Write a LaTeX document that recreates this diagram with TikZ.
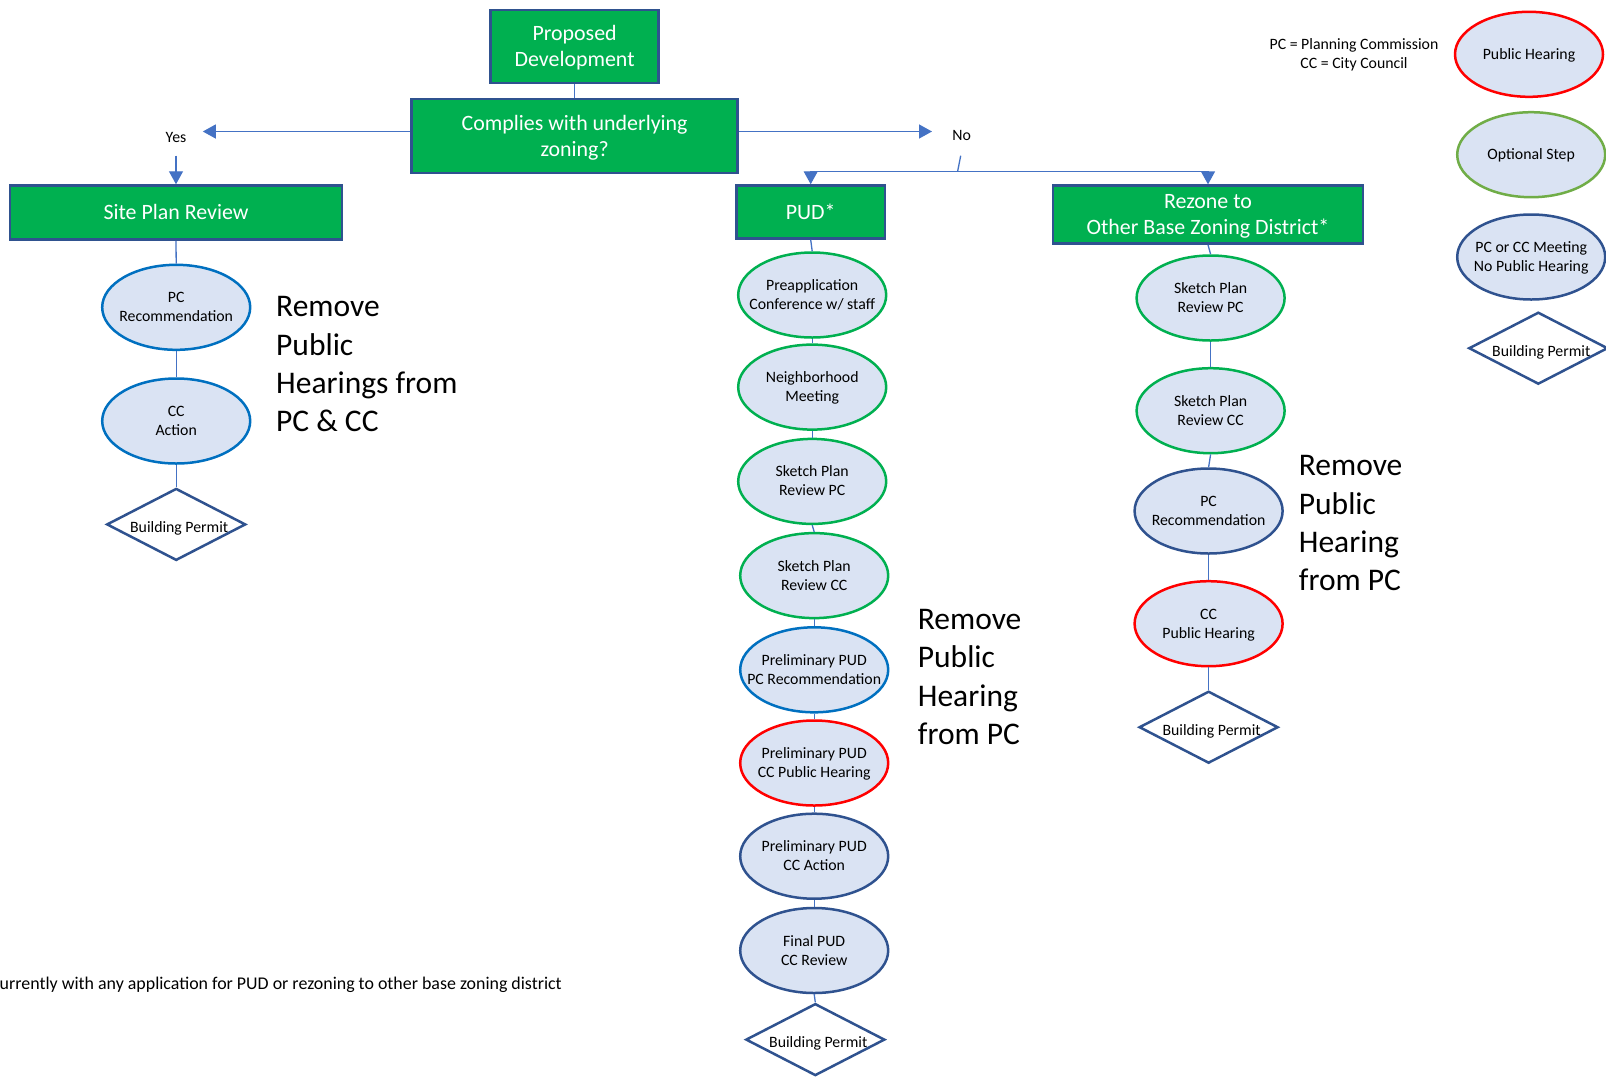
\documentclass[tikz,border=0pt]{standalone}
\usepackage{fontspec}
\setmainfont{Carlito}
\usetikzlibrary{shapes.geometric,arrows.meta}
\definecolor{boxgreen}{HTML}{00B050}
\definecolor{boxborder}{HTML}{2F528F}
\definecolor{ellfill}{HTML}{DAE3F3}
\definecolor{optgreen}{HTML}{70AD47}
\definecolor{midblue}{HTML}{0070C0}
\definecolor{darkblue}{HTML}{2F528F}
\definecolor{connblue}{HTML}{4472C4}
\definecolor{hearred}{HTML}{FF0000}
\begin{document}
\begin{tikzpicture}[x=1pt,y=-1pt,
  greenbox/.style={rectangle, fill=boxgreen, draw=boxborder, line width=2.5pt, text=white,
    font=\fontsize{21.9}{26}\selectfont, align=center, inner sep=0pt},
  twoline/.style={text height=45pt, text depth=5pt},
  oneline/.style={text height=19pt, text depth=5pt},
  ell/.style={ellipse, fill=ellfill, line width=2.5pt, minimum width=148pt, minimum height=85pt,
    inner xsep=-30pt, inner ysep=0pt, align=center, text height=33pt, text depth=4pt,
    font=\fontsize{15.8}{19}\selectfont},
  single/.style={text height=14pt, text depth=4pt},
  greenell/.style={ell, draw=boxgreen},
  blueell/.style={ell, draw=midblue},
  darkell/.style={ell, draw=darkblue},
  redell/.style={ell, draw=hearred},
  permit/.style={diamond, aspect=2, draw=darkblue, line width=2.5pt, minimum width=139pt, minimum height=72pt,
    inner xsep=-10pt, inner ysep=0pt, text height=19pt, font=\fontsize{15.8}{19}\selectfont},
  smalltext/.style={inner sep=0pt, font=\fontsize{15.8}{19}\selectfont},
  remark/.style={anchor=north west, align=left, inner sep=0pt, font=\fontsize{31.5}{38.3}\selectfont},
  link/.style={draw=connblue, line width=1.3pt},
  arr/.style={link, -{Triangle[length=13pt,width=14pt]}}
]
\useasboundingbox (0,0) rectangle (1606,1080);
\fill[white] (0,0) rectangle (1606,1080);

% top boxes
\node[greenbox, twoline, minimum width=168pt, minimum height=73pt] (prop) at (574.6,46.6) {Proposed\\Development};
\node[greenbox, twoline, minimum width=326pt, minimum height=74pt] (comp) at (574.6,136.2) {Complies with underlying\\zoning?};
\node[greenbox, oneline, minimum width=332pt, minimum height=54pt] (site) at (176,212.5) {Site Plan Review};
\node[greenbox, oneline, minimum width=148.5pt, minimum height=53pt] (pud) at (810.7,212) {PUD*};
\node[greenbox, twoline, minimum width=310pt, minimum height=58pt] (rez) at (1208,214.6) {Rezone to\\Other Base Zoning District*};

\node[smalltext] (yes) at (176,137) {Yes};
\node[smalltext] (no) at (961.7,135) {No};

\coordinate (yestip) at (202.8,131.5);
\coordinate (yesdown) at (176,155.7);
\coordinate (notip) at (932,131.5);
\coordinate (noslant) at (960.7,155.7);
\coordinate (split) at (957.6,171.5);

\draw[link] (prop.south) -- (comp.north);
\draw[arr] (comp.west |- yestip) -- (yestip);
\draw[arr] (yesdown) -- (site.north);
\draw[arr] (comp.east |- notip) -- (notip);
\draw[link] (noslant) -- (split);
\draw[arr] (split) -| (pud.north);
\draw[arr] (split) -| (rez.north);

% left column
\node[blueell] (lpc) at (176.2,307.3) {PC\\Recommendation};
\node[blueell] (lcc) at (176.2,421) {CC\\Action};
\node[permit] (lbp) at (176.2,524.4) {\hspace*{6pt}Building Permit};
\draw[link] (site.south) -- (lpc.north);
\draw[link] (lpc.south) -- (lcc.north);
\draw[link] (lcc.south) -- (lbp.north);
\node[remark] (rm1) at (276,296.3) {Remove\\Public\\Hearings from\\PC \& CC};

% PUD column
\node[greenell] (p1) at (812.2,295) {Preapplication\\Conference w/ staff};
\node[greenell] (p2) at (812.2,387.1) {Neighborhood\\Meeting};
\node[greenell] (p3) at (812.2,481.4) {Sketch Plan\\Review PC};
\node[greenell] (p4) at (814.2,575.6) {Sketch Plan\\Review CC};
\node[blueell] (p5) at (814.2,669.8) {Preliminary PUD\\PC Recommendation};
\node[redell] (p6) at (814.2,763) {Preliminary PUD\\CC Public Hearing};
\node[darkell] (p7) at (814.2,856.2) {Preliminary PUD\\CC Action};
\node[darkell] (p8) at (814.2,950.5) {Final PUD\\CC Review};
\node[permit] (pbp) at (815.3,1039.6) {\hspace*{6pt}Building Permit};
\draw[link] (pud.south) -- (p1.north);
\draw[link] (p1.south) -- (p2.north);
\draw[link] (p2.south) -- (p3.north);
\draw[link] (p3.south) -- (p4.north);
\draw[link] (p4.south) -- (p5.north);
\draw[link] (p5.south) -- (p6.north);
\draw[link] (p6.south) -- (p7.north);
\draw[link] (p7.south) -- (p8.north);
\draw[link] (p8.south) -- (pbp.north);
\node[remark] (rm2) at (917.7,609) {Remove\\Public\\Hearing\\from PC};

% Rezone column
\node[greenell] (r1) at (1210.6,298) {Sketch Plan\\Review PC};
\node[greenell] (r2) at (1210.6,410.7) {Sketch Plan\\Review CC};
\node[darkell] (r3) at (1208.6,511) {PC\\Recommendation};
\node[redell] (r4) at (1208.6,623.7) {CC\\Public Hearing};
\node[permit] (rbp) at (1208.6,727.2) {\hspace*{6pt}Building Permit};
\draw[link] (rez.south) -- (r1.north);
\draw[link] (r1.south) -- (r2.north);
\draw[link] (r2.south) -- (r3.north);
\draw[link] (r3.south) -- (r4.north);
\draw[link] (r4.south) -- (rbp.north);
\node[remark] (rm3) at (1298.7,455.3) {Remove\\Public\\Hearing\\from PC};

% legend
\node[smalltext, align=center] (legend) at (1354,55) {PC = Planning Commission\\CC = City Council};
\node[redell, single] (lgph) at (1529,54.3) {Public Hearing};
\node[ell, single, draw=optgreen] (lgopt) at (1531.2,154.7) {Optional Step};
\node[darkell] (lgmeet) at (1531.2,257) {PC or CC Meeting\\No Public Hearing};
\node[permit] (lgbp) at (1538.3,348.2) {\hspace*{6pt}Building Permit};

% footnote
\node[anchor=base east, inner sep=0pt, font=\fontsize{17.9}{21}\selectfont] (foot) at (562,989) {urrently with any application for PUD or rezoning to other base zoning district};
\end{tikzpicture}
\end{document}
